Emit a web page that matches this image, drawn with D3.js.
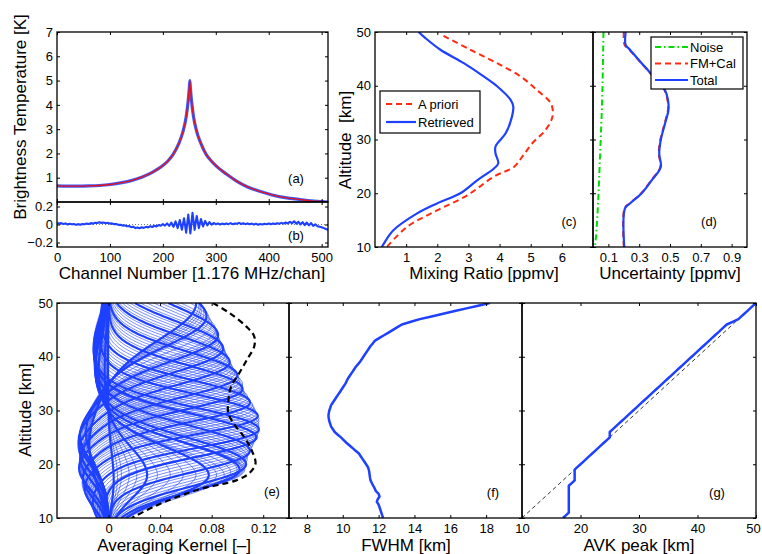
<!DOCTYPE html>
<html><head><meta charset="utf-8">
<script src="https://cdn.jsdelivr.net/npm/d3@7"></script>
<style>
body{margin:0;background:#fff}
svg{display:block}
text{font-family:"Liberation Sans",Arial,Helvetica,sans-serif;fill:#000}
</style></head>
<body><svg id="c" width="762" height="554"></svg>
<script>
// ---------- DATA ----------
// (a) spectrum
const specChan=[0,20,40,60,80,100,120,140,160,180,200,210,220,230,238,244,248,250,251,252,254,258,264,272,282,292,300,320,340,360,380,400,420,440,460,480,500,512];
const specTb=[0.66,0.65,0.65,0.66,0.68,0.72,0.79,0.88,1.02,1.22,1.5,1.7,1.98,2.4,2.9,3.5,4.2,4.7,5.0,4.7,4.2,3.5,2.9,2.4,1.95,1.68,1.5,1.15,0.85,0.62,0.46,0.33,0.22,0.15,0.1,0.05,0.02,0.0];
// (b) residual, every 4 channels from 0 to 512
const residChan=d3.range(0,513,4);
const residTb=[0.02,0.01,0.015,0.005,0.012,0.0,0.008,0.002,0.006,-0.004,0.004,-0.002,0.006,0.002,0.01,0.006,
0.015,0.01,0.02,0.016,0.025,0.018,0.022,0.014,0.018,0.01,0.012,0.004,0.005,-0.004,-0.004,-0.012,
-0.01,-0.02,-0.016,-0.03,-0.024,-0.04,-0.034,-0.042,-0.03,-0.038,-0.026,-0.032,-0.02,-0.028,-0.014,-0.022,
-0.006,-0.014,0.004,-0.012,0.012,-0.016,0.022,-0.026,0.034,-0.04,0.05,-0.058,0.07,-0.09,0.11,-0.1,
0.13,-0.06,0.095,-0.04,0.06,-0.022,0.04,-0.01,0.026,-0.002,0.016,0.004,0.012,0.0,0.01,0.002,
0.012,0.004,0.015,0.004,0.012,0.008,0.018,0.006,0.014,0.004,0.012,0.002,0.01,0.0,0.008,-0.002,
0.006,0.0,0.008,0.002,0.01,0.004,0.012,0.006,0.015,0.008,0.018,0.01,0.022,0.012,0.03,0.014,
0.036,0.01,0.03,0.0,0.026,-0.006,0.022,-0.01,0.016,-0.016,0.002,-0.02,-0.024,-0.03,-0.04,-0.05,
-0.06];
// (c) mixing ratio
const altRet=[50,48.9,46.7,44.2,41.7,39.9,37.4,36.1,34.3,31.2,28.7,27.4,25.6,24.6,22.4,20.0,18.1,16.2,13.1,10];
const mrRetrieved=[1.40,1.61,2.1,2.85,3.5,3.92,4.35,4.44,4.4,4.2,3.87,3.87,3.96,3.82,3.28,2.74,1.99,1.34,0.59,0.22];
const altApr=[49.3,46.7,44.2,41.7,39.2,36.7,34.3,31.8,29.3,26.8,24.9,23.1,19.6,16.8,13.7,10];
const mrApriori=[2.2,3.06,3.92,4.68,5.2,5.65,5.7,5.48,5.05,4.73,4.46,3.82,2.96,1.99,1.02,0.38];
// (d) uncertainty
const altUnc=[50,47.6,46.7,44.2,42.9,41.7,39.2,37.3,35.5,33,29.9,27.4,24.9,22.4,20,18.1,17.2,10];
const uncTotal=[0.212,0.212,0.24,0.316,0.357,0.392,0.467,0.487,0.49,0.468,0.44,0.43,0.44,0.381,0.316,0.24,0.208,0.203];
const uncFmCal=[0.2,0.205,0.236,0.313,0.354,0.389,0.464,0.484,0.487,0.465,0.437,0.427,0.437,0.378,0.313,0.237,0.205,0.2];
const altNoise=[50,45,40,35,30,25,20,15,12,10];
const uncNoise=[0.068,0.065,0.062,0.057,0.05,0.043,0.036,0.027,0.02,0.012];
// (e)-(g) averaging kernels, one per retrieval altitude 10..50 km (0.5 km grid)
const kAlt=d3.range(10,50.01,0.5);
const avkPeak=[17,17.5,18,18,18,18,18,18,18,18,
18,18,18,18.5,19,19,19,19,19,19.5,
20,20.5,21,21.5,22,22.5,23,23.5,24,24.5,
25,25,25,25.5,26,26.5,27,27.5,28,28.5,
29,29.5,30,30.5,31,31.5,32,32.5,33,33.5,
34,34.5,35,35.5,36,36.5,37,37.5,38,38.5,
39,39.5,40,40.5,41,41.5,42,42.5,43,43.5,
44,44.5,45,46,47,47.5,48,48.5,49,49.5,
50];
const fwhm=[12.25,12.2,12.15,12.1,12.05,12.0,11.9,11.95,12.05,12.0,
11.85,11.78,11.7,11.62,11.55,11.52,11.5,11.48,11.45,11.4,
11.3,11.2,11.1,11.0,10.9,10.72,10.55,10.38,10.2,10.05,
9.9,9.72,9.55,9.45,9.35,9.3,9.25,9.22,9.2,9.22,
9.25,9.3,9.35,9.45,9.55,9.65,9.75,9.85,9.95,10.05,
10.15,10.22,10.3,10.4,10.5,10.6,10.7,10.82,10.95,11.05,
11.15,11.25,11.35,11.45,11.55,11.68,11.8,12.05,12.3,12.55,
12.8,13.05,13.3,13.8,14.3,14.95,15.6,16.25,16.9,17.55,
18.2];
const avkAmp=[0.004,0.007,0.01,0.016,0.022,0.03,0.038,0.048,0.058,0.068,
0.078,0.084,0.09,0.095,0.1,0.102,0.104,0.105,0.106,0.106,
0.107,0.107,0.108,0.108,0.109,0.11,0.111,0.112,0.113,0.114,
0.115,0.115,0.116,0.116,0.117,0.117,0.117,0.117,0.117,0.117,
0.116,0.115,0.114,0.113,0.112,0.11,0.109,0.108,0.106,0.105,
0.104,0.104,0.104,0.102,0.101,0.1,0.098,0.097,0.096,0.095,
0.094,0.093,0.092,0.091,0.09,0.089,0.088,0.087,0.086,0.085,
0.085,0.084,0.083,0.08,0.078,0.076,0.074,0.072,0.071,0.07,
0.068];
const lobeLow=[0,0,0,0,0,0,0,0,0,0,
0,0,0,0,0,0,0,0,0,0,
0,0,0,0,0,0,0,0,0.01,0.02,
0.03,0.045,0.06,0.075,0.09,0.105,0.12,0.13,0.14,0.15,
0.16,0.17,0.18,0.18,0.18,0.18,0.18,0.19,0.2,0.21,
0.22,0.22,0.22,0.22,0.22,0.22,0.22,0.22,0.22,0.22,
0.24,0.25,0.26,0.26,0.26,0.26,0.26,0.26,0.26,0.26,
0.26,0.26,0.26,0.25,0.24,0.23,0.22,0.22,0.22,0.22,
0.22];
const lobeHigh=[0.1,0.1,0.1,0.1,0.1,0.1,0.1,0.1,0.1,0.1,
0.1,0.1,0.1,0.1,0.1,0.1,0.1,0.1,0.1,0.1,
0.1,0.1,0.1,0.1,0.1,0.1,0.1,0.1,0.1,0.1,
0.1,0.1,0.1,0.1,0.1,0.1,0.1,0.1,0.08,0.07,
0.06,0.06,0.06,0.06,0.06,0.05,0.04,0.03,0.02,0.01,
0,0,0,0,0,0,0,0,0,0,
0,0,0,0,0,0,0,0,0,0,
0,0,0,0,0,0,0,0,0,0,
0];
const mrAlt=[50,48.1,45.6,43.8,41.9,39.7,37.2,34.4,31.9,29.4,27.3,24.8,22.6,20.1,18.3,17.0,15.5,13.9,12.1,10];
const measResp=[0.081,0.094,0.107,0.113,0.113,0.108,0.102,0.095,0.093,0.093,0.098,0.106,0.111,0.114,0.109,0.099,0.073,0.053,0.035,0.018];
const oneToOne=[10,50];

// ---------- DRAWING ----------
const FONT='"Liberation Sans",Arial,Helvetica,sans-serif';
const BLUE="#1e40ff", RED="#ff2a10", GREEN="#00dd00";
const svg=d3.select("#c");
svg.append("rect").attr("width",762).attr("height",554).attr("fill","#fff");
let cid=0;
function panel(o){
  const x=d3.scaleLinear().domain(o.xd).range([o.x0,o.x1]);
  const y=d3.scaleLinear().domain(o.yd).range([o.y1,o.y0]);
  const id="clip"+(cid++);
  svg.append("clipPath").attr("id",id).append("rect")
    .attr("x",o.x0).attr("y",o.y0).attr("width",o.x1-o.x0).attr("height",o.y1-o.y0);
  const g=svg.append("g").attr("clip-path",`url(#${id})`);
  return {x,y,g,o};
}
function frame(p){
  const o=p.o, none=()=>"";
  const st=sel=>{sel.select(".domain").remove();sel.attr("font-size",13).attr("font-family",FONT);};
  const bx=svg.append("g").attr("transform",`translate(0,${o.y1})`)
    .call(d3.axisBottom(p.x).tickValues(o.xt).tickSizeInner(-3).tickSizeOuter(0).tickPadding(6).tickFormat(o.xl?(o.xf||(d=>d)):none)).call(st);
  svg.append("g").attr("transform",`translate(0,${o.y0})`)
    .call(d3.axisTop(p.x).tickValues(o.xt).tickSizeInner(-3).tickSizeOuter(0).tickFormat(none)).call(st);
  svg.append("g").attr("transform",`translate(${o.x0},0)`)
    .call(d3.axisLeft(p.y).tickValues(o.yt).tickSizeInner(-3).tickSizeOuter(0).tickPadding(4).tickFormat(o.yl?(o.yf||(d=>d)):none)).call(st);
  svg.append("g").attr("transform",`translate(${o.x1},0)`)
    .call(d3.axisRight(p.y).tickValues(o.yt).tickSizeInner(-3).tickSizeOuter(0).tickFormat(none)).call(st);
  svg.append("rect").attr("x",o.x0).attr("y",o.y0).attr("width",o.x1-o.x0).attr("height",o.y1-o.y0)
    .attr("fill","none").attr("stroke","#000").attr("stroke-width",1.3);
  return bx;
}
function txt(x,y,s,size,anchor,rot){
  const t=svg.append("text").attr("x",x).attr("y",y).attr("font-size",size).attr("text-anchor",anchor||"middle").text(s);
  if(rot) t.attr("transform",`rotate(-90,${x},${y})`);
  return t;
}
function path(p,xs,ys,color,w,dash,curve){
  const pts=xs.map((v,i)=>[v,ys[i]]);
  const ln=d3.line().x(d=>p.x(d[0])).y(d=>p.y(d[1]));
  if(curve) ln.curve(curve);
  const e=p.g.append("path").datum(pts).attr("d",ln).attr("fill","none")
    .attr("stroke",color).attr("stroke-width",w).attr("stroke-linejoin","round");
  if(dash) e.attr("stroke-dasharray",dash);
  return e;
}

// (a)
const A=panel({x0:57,x1:328,y0:32,y1:202,xd:[0,512],yd:[0,7],xt:[0,100,200,300,400,500],yt:[1,2,3,4,5,6,7],yl:true});
path(A,specChan,specTb,"#3a5cff",3.2,null,d3.curveMonotoneX);
path(A,specChan,specTb,"#e8101a",1.3,null,d3.curveMonotoneX);
frame(A);
txt(296,183,"(a)",13);
// (b)
const B=panel({x0:57,x1:328,y0:202,y1:247,xd:[0,512],yd:[-0.25,0.25],xt:[0,100,200,300,400,500],yt:[-0.2,0,0.2],xl:true,yl:true,
  yf:d=>d===0?"0":(d<0?"\u22120.2":"0.2")});
B.g.append("line").attr("x1",B.x(0)).attr("x2",B.x(512)).attr("y1",B.y(0)).attr("y2",B.y(0))
  .attr("stroke","#555").attr("stroke-width",0.8).attr("stroke-dasharray","1,2");
path(B,residChan,residTb,BLUE,2.1);
frame(B);
txt(296,240,"(b)",13);
txt(26,117,"Brightness Temperature [K]",17,"middle",true);
txt(192,279,"Channel Number [1.176 MHz/chan]",17);

// (c)
const C=panel({x0:375,x1:593,y0:32,y1:247,xd:[0,7],yd:[10,50],xt:[1,2,3,4,5,6],yt:[10,20,30,40,50],xl:true,yl:true});
path(C,mrApriori,altApr,RED,2,"6,4",d3.curveCatmullRom);
path(C,mrRetrieved,altRet,BLUE,2.2,null,d3.curveCatmullRom);
frame(C);
txt(569,226,"(c)",13);
txt(351,140,"Altitude\u00a0\u00a0[km]",17,"middle",true);
txt(484,279,"Mixing Ratio [ppmv]",17);
svg.append("rect").attr("x",380).attr("y",91).attr("width",100).attr("height",42).attr("fill","#fff").attr("stroke","#000").attr("stroke-width",1.2);
svg.append("line").attr("x1",386).attr("x2",416).attr("y1",104).attr("y2",104).attr("stroke",RED).attr("stroke-width",2).attr("stroke-dasharray","6,4");
svg.append("line").attr("x1",386).attr("x2",416).attr("y1",122).attr("y2",122).attr("stroke",BLUE).attr("stroke-width",2.2);
txt(418,108.5,"A priori",13,"start");
txt(418,127,"Retrieved",13,"start");

// (d)
const D=panel({x0:593,x1:747,y0:32,y1:247,xd:[0,1],yd:[10,50],xt:[0.1,0.3,0.5,0.7,0.9],yt:[10,20,30,40,50],xl:true,xf:d3.format(".1f")});
path(D,uncNoise,altNoise,GREEN,2,"6,3,1.5,3");
path(D,uncFmCal,altUnc,RED,2,"6,4",d3.curveCatmullRom);
path(D,uncTotal,altUnc,BLUE,2.2,null,d3.curveCatmullRom);
frame(D);
txt(709,226,"(d)",13);
txt(670,279,"Uncertainty [ppmv]",17);
svg.append("rect").attr("x",651).attr("y",37).attr("width",92).attr("height",52).attr("fill","#fff").attr("stroke","#000").attr("stroke-width",1.2);
svg.append("line").attr("x1",655).attr("x2",688).attr("y1",47).attr("y2",47).attr("stroke",GREEN).attr("stroke-width",2).attr("stroke-dasharray","6,3,1.5,3");
svg.append("line").attr("x1",655).attr("x2",688).attr("y1",63.5).attr("y2",63.5).attr("stroke",RED).attr("stroke-width",2).attr("stroke-dasharray","6,4");
svg.append("line").attr("x1",655).attr("x2",688).attr("y1",80).attr("y2",80).attr("stroke",BLUE).attr("stroke-width",2.2);
txt(690,51.5,"Noise",13,"start");
txt(690,68,"FM+Cal",13,"start");
txt(690,84.5,"Total",13,"start");

// (e)
const E=panel({x0:57,x1:289,y0:303,y1:518,xd:[-0.04,0.14],yd:[10,50],xt:[0,0.04,0.08,0.12],yt:[10,20,30,40,50],xl:true,yl:true,
  xf:d=>d===0?"0":d3.format(".2f")(d)});
function kval(i,z){
  const p=avkPeak[i],F=fwhm[i],s=F/2.355;
  const sl=z<p?s*0.85:s;
  let v=Math.exp(-((z-p)**2)/(2*sl*sl));
  const lc=p-1.45*F, ls=0.4*F, hc=p+1.6*F, hs=0.6*F;
  v-=lobeLow[i]*Math.exp(-((z-lc)**2)/(2*ls*ls));
  v-=lobeHigh[i]*Math.exp(-((z-hc)**2)/(2*hs*hs));
  return avkAmp[i]*v;
}
const zGrid=d3.range(10,50.001,0.25);
const kl=d3.line().x(d=>E.x(d[0])).y(d=>E.y(d[1]));
const isThick=i=>Math.abs(kAlt[i]/2.5-Math.round(kAlt[i]/2.5))<1e-6;
const order=kAlt.map((z,i)=>i).sort((a,b)=>isThick(a)-isThick(b));
order.forEach(i=>{
  E.g.append("path").datum(zGrid.map(z=>[kval(i,z),z])).attr("d",kl).attr("fill","none")
    .attr("stroke",BLUE).attr("stroke-width",isThick(i)?2.2:0.6);
});
path(E,measResp,mrAlt,"#000",2.2,"6,4",d3.curveCatmullRom);
frame(E);
txt(272,496,"(e)",13);
txt(31,410,"Altitude [km]",17,"middle",true);
txt(174,551,"Averaging Kernel [\u2013]",17);

// (f)
const Fp=panel({x0:289,x1:522,y0:303,y1:518,xd:[7,20],yd:[10,50],xt:[8,10,12,14,16,18],yt:[10,20,30,40,50],xl:true});
path(Fp,fwhm,kAlt,BLUE,2.5);
frame(Fp);
txt(493,497,"(f)",13);
txt(406,551,"FWHM [km]",17);

// (g)
const G=panel({x0:522,x1:756,y0:303,y1:518,xd:[10,50],yd:[10,50],xt:[10,20,30,40,50],yt:[10,20,30,40,50],xl:true});
path(G,oneToOne,oneToOne,"#000",0.8,"4,3");
path(G,avkPeak,kAlt,BLUE,2.5);
const gx=frame(G);
gx.selectAll(".tick text").filter(d=>d===50).attr("dx",-3);
txt(717,497,"(g)",13);
txt(639,551,"AVK peak [km]",17);
</script>
</body></html>
